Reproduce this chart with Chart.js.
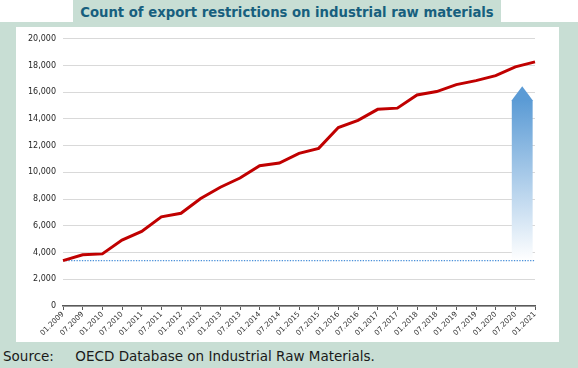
<!DOCTYPE html>
<html>
<head>
<meta charset="utf-8">
<script src="https://cdn.jsdelivr.net/npm/chart.js@4"></script>
<style>
  html, body { margin: 0; padding: 0; }
  body { width: 578px; height: 368px; background: #ffffff; position: relative; overflow: hidden; }
  #band { position: absolute; left: 0; top: 22px; width: 578px; height: 346px; background: #c8ded4; }
  #title {
    position: absolute; left: 73px; top: 0; width: 428px; height: 23px; background: #c8ded4;
    font: bold 14.7px "DejaVu Sans Condensed", "DejaVu Sans", sans-serif; color: #175f7e;
    text-align: center; line-height: 23px; white-space: nowrap;
  }
  #panel { position: absolute; left: 16px; top: 27px; width: 543px; height: 315px; background: #ffffff; }
  #source {
    position: absolute; left: 3px; top: 348px;
    font: 13.5px "DejaVu Sans", sans-serif; color: #1a1a1a; white-space: pre;
  }
</style>
</head>
<body>
<div id="band"></div>
<div id="title">Count of export restrictions on industrial raw materials</div>
<div id="panel"><canvas id="chart" width="543" height="315"></canvas></div>
<div id="source">Source:     OECD Database on Industrial Raw Materials.</div>

<script>
/* =========================
   DATA
   ========================= */

const periods = [
  "01.2009", "07.2009", "01.2010", "07.2010", "01.2011", "07.2011", "01.2012",
  "07.2012", "01.2013", "07.2013", "01.2014", "07.2014", "01.2015", "07.2015",
  "01.2016", "07.2016", "01.2017", "07.2017", "01.2018", "07.2018", "01.2019",
  "07.2019", "01.2020", "07.2020", "01.2021"
];

const restrictions = [
  3400, 3830, 3900, 4940, 5580, 6670, 6940, 8050, 8890, 9580, 10500, 10700,
  11430, 11800, 13360, 13900, 14720, 14810, 15800, 16050, 16570, 16870, 17240,
  17900, 18270
];

const yTicks = [0, 2000, 4000, 6000, 8000, 10000, 12000, 14000, 16000, 18000, 20000];

/* 2009 level, shown as dotted reference line and arrow base */
const baseline = 3400;
const arrowBodyTop = 15400;
const arrowTip = 16450;
const arrowAt = 23.35;      // position on the category axis
const arrowHalf = 0.53;     // half width in category units

/* =========================
   ARROW PLUGIN
   ========================= */

const arrowPlugin = {
  id: "growthArrow",
  beforeDatasetsDraw(chart) {
    const { ctx, scales: { x, y } } = chart;
    const cx = x.getPixelForValue(arrowAt);
    const half = x.getPixelForValue(arrowAt + arrowHalf) - cx;
    const yBase = y.getPixelForValue(baseline);
    const yBody = y.getPixelForValue(arrowBodyTop);
    const yPoint = y.getPixelForValue(arrowTip);

    const grad = ctx.createLinearGradient(0, yPoint, 0, yBase);
    grad.addColorStop(0, "#5b9bd5");
    grad.addColorStop(0.08, "#5b9bd5");
    grad.addColorStop(1, "#ffffff");

    ctx.save();
    ctx.fillStyle = grad;
    ctx.beginPath();
    ctx.moveTo(cx - half, yBase);
    ctx.lineTo(cx - half, yBody);
    ctx.lineTo(cx, yPoint);
    ctx.lineTo(cx + half, yBody);
    ctx.lineTo(cx + half, yBase);
    ctx.closePath();
    ctx.fill();
    ctx.restore();
  }
};

/* =========================
   CHART
   ========================= */

const labelFont = { family: "'DejaVu Sans', sans-serif" };

new Chart(document.getElementById("chart"), {
  type: "line",
  data: {
    labels: periods,
    datasets: [
      {
        data: restrictions,
        borderColor: "#c00000",
        borderWidth: 3,
        pointRadius: 0,
        tension: 0,
        order: 1
      },
      {
        data: [
          { x: periods[0], y: baseline },
          { x: periods[periods.length - 1], y: baseline }
        ],
        borderColor: "#4a90d9",
        borderWidth: 1.3,
        borderDash: [1.3, 1.4],
        pointRadius: 0,
        order: 2
      }
    ]
  },
  options: {
    responsive: false,
    animation: false,
    layout: { padding: { top: 9, right: 24, left: 0, bottom: 0 } },
    plugins: { legend: { display: false }, tooltip: { enabled: false } },
    scales: {
      x: {
        type: "category",
        offset: false,
        afterFit: s => { s.height = 36; },
        grid: { display: true, drawOnChartArea: false, drawTicks: true, tickLength: 4, color: "#595959", lineWidth: 1 },
        border: { display: true, color: "#595959", width: 1.5 },
        ticks: {
          autoSkip: false, minRotation: 45, maxRotation: 45, padding: 0,
          color: "#333333", font: { ...labelFont, size: 7.3 }
        }
      },
      y: {
        min: 0,
        max: 20000,
        afterFit: s => { s.width = 47; },
        afterBuildTicks: s => { s.ticks = yTicks.map(v => ({ value: v })); },
        grid: { color: "#d9d9d9", lineWidth: 1, drawTicks: false },
        border: { display: false },
        ticks: {
          padding: 7, color: "#262626", font: { ...labelFont, size: 8 },
          callback: v => v.toLocaleString("en-US")
        }
      }
    }
  },
  plugins: [arrowPlugin]
});
</script>
</body>
</html>
